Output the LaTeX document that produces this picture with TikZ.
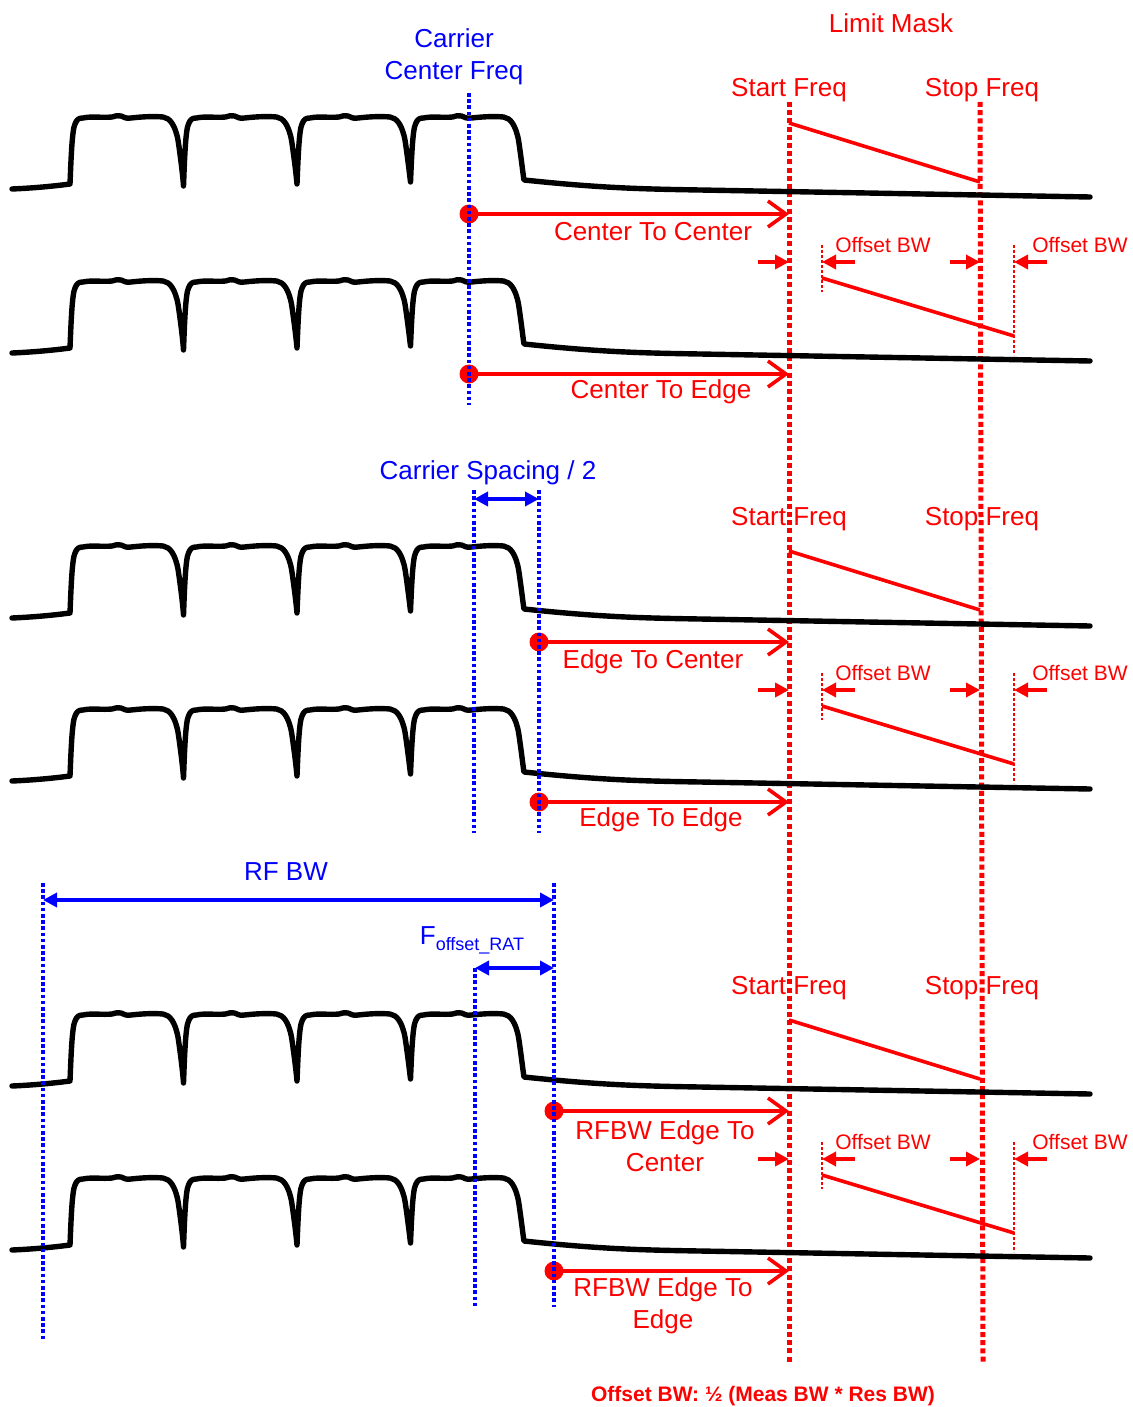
\documentclass[tikz,border=0pt]{standalone}
\usepackage{fontspec}
\setmainfont{Liberation Sans}
\usetikzlibrary{arrows.meta, positioning}
\definecolor{maskred}{RGB}{255,0,0}
\definecolor{markblue}{RGB}{0,0,255}

\begin{document}
\begin{tikzpicture}[
  x=0.5pt, y=-0.5pt,
  trace/.style={line width=2.7pt, black, line join=round, line cap=round},
  mask/.style={maskred, line width=1.8pt},
  limit/.style={maskred, line width=2.5pt, dash pattern=on 2.5pt off 1.6pt},
  offline/.style={maskred, line width=1.3pt, dash pattern=on 1.3pt off 1.2pt},
  guide/.style={markblue, line width=2pt, dash pattern=on 1.8pt off 1.3pt},
  meas/.style={-{Straight Barb[length=9pt, width=13pt]}, maskred, line width=1.8pt},
  push/.style={-{Triangle[length=7pt, width=7pt]}, maskred, line width=1.8pt},
  span/.style={{Triangle[length=7pt, width=7pt]}-{Triangle[length=7pt, width=7pt]}, markblue, line width=1.8pt},
  dot/.style={circle, fill=maskred, inner sep=0pt, minimum size=9.5pt},
  redtxt/.style={text=maskred, font=\fontsize{13}{16}\selectfont, align=center},
  bluetxt/.style={text=markblue, font=\fontsize{13}{16}\selectfont, align=center},
  smalltxt/.style={text=maskred, font=\fontsize{10.5}{12}\selectfont}
]
\useasboundingbox (0,0) rectangle (1133,1407);

% limit mask start / stop lines
\coordinate (starttop) at (789,102);
\coordinate (startbot) at (789,1362);
\coordinate (stoptop) at (980,102);
\coordinate (stopbot) at (983,1362);
\draw[limit] (starttop) -- (startbot);
\draw[limit] (stoptop) -- (stopbot);

\node[redtxt, anchor=base] (limit) at (891,33) {Limit Mask};

% mask segments and offset BW markers, one set per block
\foreach \s/\n in {0/a, 428/b, 897/c} {
  \begin{scope}[shift={(0,\s)}]
    \node[redtxt, anchor=base] (start\n) at (789,97) {Start Freq};
    \node[redtxt, anchor=base] (stop\n) at (982,97) {Stop Freq};
    \coordinate (mask\n1) at (789,123);
    \coordinate (mask\n2) at (980,182);
    \draw[mask] (mask\n1) -- (mask\n2);
    % shifted mask
    \coordinate (lo\n1) at (822,245);
    \coordinate (lo\n2) at (822,292);
    \coordinate (hi\n1) at (1014,245);
    \coordinate (hi\n2) at (1014,355);
    \draw[offline] (lo\n1) -- (lo\n2);
    \draw[offline] (hi\n1) -- (hi\n2);
    \coordinate (off\n1) at (822,278);
    \coordinate (off\n2) at (1014,336);
    \draw[mask] (off\n1) -- (off\n2);
    \coordinate (pa\n) at (758,262);
    \coordinate (qa\n) at (789,262);
    \coordinate (pb\n) at (855,262);
    \coordinate (qb\n) at (822,262);
    \coordinate (pc\n) at (950,262);
    \coordinate (qc\n) at (980,262);
    \coordinate (pd\n) at (1047,262);
    \coordinate (qd\n) at (1014,262);
    \draw[push] (pa\n) -- (qa\n);
    \draw[push] (pb\n) -- (qb\n);
    \draw[push] (pc\n) -- (qc\n);
    \draw[push] (pd\n) -- (qd\n);
    \node[smalltxt, anchor=base] (obwl\n) at (883,252) {Offset BW};
    \node[smalltxt, anchor=base] (obwr\n) at (1080,252) {Offset BW};
  \end{scope}
}

% spectrum traces
\foreach \t in {0,164,429,592,897,1061}
  \draw[trace, shift={(0,\t)}] (12,189) .. controls (35,188) and (55,186) .. (70,184)
    \foreach \k [evaluate=\k as \x using 70+113.5*\k,
                 evaluate=\k as \yb using 186-2*(\k==3)] in {0,1,2,3} {
      .. controls ({\x+1},160) and ({\x+2},130) .. ({\x+5},124)
      .. controls ({\x+7},119) and ({\x+9},118) .. ({\x+13},118)
      .. controls ({\x+22},116) and ({\x+32},118) .. ({\x+42},117)
      .. controls ({\x+46},116) and ({\x+48},115) .. ({\x+51},116)
      .. controls ({\x+54},117) and ({\x+56},119) .. ({\x+61},118)
      .. controls ({\x+70},117) and ({\x+82},116) .. ({\x+93},117)
      .. controls ({\x+100},118) and ({\x+105},125) .. ({\x+108},140)
      .. controls ({\x+111},160) and ({\x+113},178) .. ({\x+113.5},\yb)
    }
    .. controls (600,188) and (640,189) .. (700,190) -- (1090,197);

% measurement arrows
\foreach \s/\n/\xs in {0/a/469, 428/b/539, 897/c/554} {
  \begin{scope}[shift={(0,\s)}]
    \node[dot] (dup\n) at (\xs,214) {};
    \coordinate (eup\n) at (789,214);
    \draw[meas] (dup\n.center) -- (eup\n);
    \node[dot] (dlo\n) at (\xs,374) {};
    \coordinate (elo\n) at (789,374);
    \draw[meas] (dlo\n.center) -- (elo\n);
  \end{scope}
}
\node[redtxt, anchor=base] (c2c) at (653,241) {Center To Center};
\node[redtxt, anchor=base] (c2e) at (661,398) {Center To Edge};
\node[redtxt, anchor=base] (e2c) at (653,668) {Edge To Center};
\node[redtxt, anchor=base] (e2e) at (661,826) {Edge To Edge};
\node[redtxt] (r2c) at (665,1146) {RFBW Edge To\\Center};
\node[redtxt] (r2e) at (663,1306) {RFBW Edge To\\Edge};

% blue guides
\coordinate (cf1) at (469,93);
\coordinate (cf2) at (469,405);
\draw[guide] (cf1) -- (cf2);
\node[bluetxt] (cfreq) at (454,57) {Carrier\\Center Freq};

\coordinate (hs1) at (474,490);
\coordinate (hs2) at (474,833);
\coordinate (he1) at (539,490);
\coordinate (he2) at (539,833);
\draw[guide] (hs1) -- (hs2);
\draw[guide] (he1) -- (he2);
\coordinate (hsa) at (474,499);
\coordinate (hsb) at (539,499);
\draw[span] (hsa) -- (hsb);
\node[bluetxt, anchor=base] (cspace) at (488,479) {Carrier Spacing / 2};

\coordinate (rl1) at (43,883);
\coordinate (rl2) at (43,1340);
\coordinate (rr1) at (554,883);
\coordinate (rr2) at (554,1307);
\coordinate (ro1) at (475,968);
\coordinate (ro2) at (475,1307);
\draw[guide] (rl1) -- (rl2);
\draw[guide] (rr1) -- (rr2);
\draw[guide] (ro1) -- (ro2);
\coordinate (rba) at (43,900);
\coordinate (rbb) at (554,900);
\draw[span] (rba) -- (rbb);
\node[bluetxt, anchor=base] (rfbw) at (286,880) {RF BW};
\coordinate (rta) at (475,968);
\coordinate (rtb) at (554,968);
\draw[span] (rta) -- (rtb);
\node[bluetxt, anchor=base] (frat) at (472,944)
  {F\raisebox{-0.45ex}{\fontsize{9}{10}\selectfont offset\_RAT}};

% note
\node[smalltxt, anchor=base, font=\fontsize{10.5}{12}\selectfont\bfseries] (note) at (763,1401)
  {Offset BW: ½ (Meas BW * Res BW)};
\end{tikzpicture}
\end{document}
